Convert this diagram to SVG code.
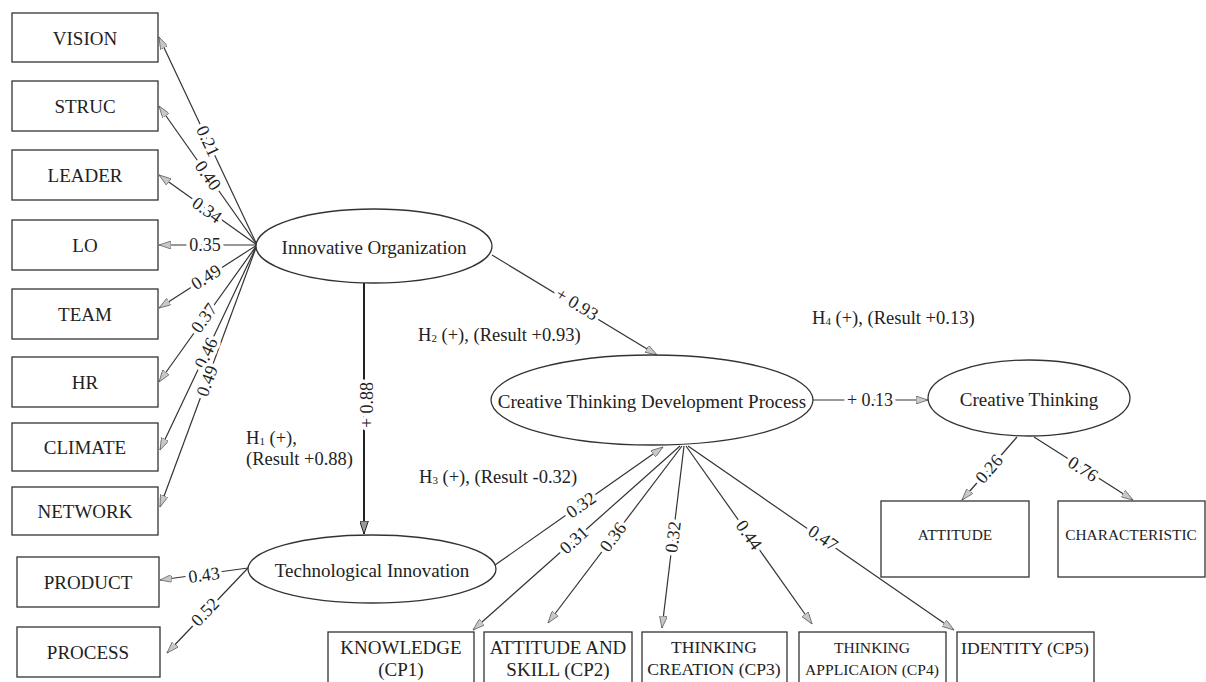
<svg xmlns="http://www.w3.org/2000/svg" width="1206" height="682" viewBox="0 0 1206 682">
<style>
  text { font-family: "Liberation Serif", "Times New Roman", serif; fill: #222; }
  .box { fill: #fff; stroke: #333; stroke-width: 1.3; }
  .ell { fill: #fff; stroke: #333; stroke-width: 1.3; }
  .t { font-size: 19px; text-anchor: middle; dominant-baseline: central; }
  .ts { font-size: 15.4px; text-anchor: middle; dominant-baseline: central; }
  .tb { font-size: 17.6px; text-anchor: middle; dominant-baseline: central; }
  .tc { font-size: 15.6px; text-anchor: middle; dominant-baseline: central; }
  .h { font-size: 18.5px; dominant-baseline: central; }
  .ln { stroke: #333; stroke-width: 1.2; fill: none; marker-end: url(#arr); }
  .lnd { stroke: #222; stroke-width: 2; fill: none; marker-end: url(#arrd); }
  .lbl { font-size: 18px; text-anchor: middle; dominant-baseline: central; stroke: #fff; stroke-width: 7; stroke-linejoin: round; paint-order: stroke; }
</style>
<defs>
  <marker id="arr" viewBox="0 0 12 8" refX="12" refY="4" markerWidth="12" markerHeight="8" markerUnits="userSpaceOnUse" orient="auto">
    <path d="M0,0 L12,4 L0,8 z" fill="#c8c8c8" stroke="#666" stroke-width="0.8"/>
  </marker>
  <marker id="arrd" viewBox="0 0 12 8" refX="12" refY="4" markerWidth="13" markerHeight="9" markerUnits="userSpaceOnUse" orient="auto">
    <path d="M0,0 L12,4 L0,8 z" fill="#999" stroke="#222" stroke-width="0.9"/>
  </marker>
</defs>
<rect width="1206" height="682" fill="#fff"/>

<g id="connectors">
  <line class="ln" x1="257" y1="245" x2="159" y2="37"/>
  <line class="ln" x1="257" y1="245" x2="159" y2="106"/>
  <line class="ln" x1="257" y1="245" x2="159" y2="175"/>
  <line class="ln" x1="257" y1="245" x2="159" y2="245"/>
  <line class="ln" x1="257" y1="245" x2="159" y2="308"/>
  <line class="ln" x1="257" y1="245" x2="159" y2="382"/>
  <line class="ln" x1="257" y1="245" x2="160" y2="450"/>
  <line class="ln" x1="257" y1="245" x2="160" y2="507"/>
  <line class="ln" x1="248" y1="568" x2="160" y2="580"/>
  <line class="ln" x1="248" y1="568" x2="167" y2="653"/>
  <line class="lnd" x1="364" y1="283" x2="364" y2="534"/>
  <line class="ln" x1="492" y1="255" x2="657" y2="355"/>
  <line class="ln" x1="495" y1="565" x2="663" y2="447"/>
  <line class="ln" x1="813" y1="400" x2="928" y2="400"/>
  <line class="ln" x1="680" y1="446" x2="473" y2="630"/>
  <line class="ln" x1="682" y1="446" x2="548" y2="623"/>
  <line class="ln" x1="684" y1="446" x2="662" y2="628"/>
  <line class="ln" x1="686" y1="446" x2="812" y2="624"/>
  <line class="ln" x1="688" y1="446" x2="954" y2="630"/>
  <line class="ln" x1="1017" y1="437" x2="962" y2="500"/>
  <line class="ln" x1="1034" y1="437" x2="1133" y2="500"/>

  <text class="lbl" transform="translate(208,141) rotate(64.8)">0.21</text>
  <text class="lbl" transform="translate(208,175.5) rotate(54.8)">0.40</text>
  <text class="lbl" transform="translate(207,210) rotate(35.5)">0.34</text>
  <text class="lbl" transform="translate(205,245)">0.35</text>
  <text class="lbl" transform="translate(206,277) rotate(-32.7)">0.49</text>
  <text class="lbl" transform="translate(204,318) rotate(-54.4)">0.37</text>
  <text class="lbl" transform="translate(206,353) rotate(-64.7)">0.46</text>
  <text class="lbl" transform="translate(207,381) rotate(-69.7)">0.49</text>
  <text class="lbl" transform="translate(204,575) rotate(-7.8)">0.43</text>
  <text class="lbl" transform="translate(205,612) rotate(-46.4)">0.52</text>
  <text class="lbl" transform="translate(367,405) rotate(-90)">+ 0.88</text>
  <text class="lbl" transform="translate(577,304) rotate(31.2)">+ 0.93</text>
  <text class="lbl" transform="translate(870,400)">+ 0.13</text>
  <text class="lbl" transform="translate(581,505) rotate(-35.1)">0.32</text>
  <text class="lbl" transform="translate(574,540) rotate(-41.6)">0.31</text>
  <text class="lbl" transform="translate(613,537) rotate(-52.9)">0.36</text>
  <text class="lbl" transform="translate(673,537) rotate(-83.1)">0.32</text>
  <text class="lbl" transform="translate(749,535) rotate(54.7)">0.44</text>
  <text class="lbl" transform="translate(823,538) rotate(34.7)">0.47</text>
  <text class="lbl" transform="translate(989,469) rotate(-48.9)">0.26</text>
  <text class="lbl" transform="translate(1083,469) rotate(32.5)">0.76</text>
</g>

<g id="hypotheses">
  <text class="h" x="246" y="438">H<tspan font-size="11" dy="3">1</tspan><tspan dy="-3"> (+),</tspan></text>
  <text class="h" x="246" y="459">(Result +0.88)</text>
  <text class="h" x="418" y="335">H<tspan font-size="11" dy="3">2</tspan><tspan dy="-3">  (+), (Result +0.93)</tspan></text>
  <text class="h" x="419" y="477">H<tspan font-size="11" dy="3">3</tspan><tspan dy="-3"> (+), (Result -0.32)</tspan></text>
  <text class="h" x="812" y="318">H<tspan font-size="11" dy="3">4</tspan><tspan dy="-3"> (+), (Result +0.13)</tspan></text>
</g>

<g id="n-vision"><rect class="box" x="12" y="13" width="146" height="49"/><text class="t" x="85" y="38">VISION</text></g>
<g id="n-struc"><rect class="box" x="12" y="81" width="146" height="50"/><text class="t" x="85" y="106">STRUC</text></g>
<g id="n-leader"><rect class="box" x="12" y="150" width="146" height="50"/><text class="t" x="85" y="175">LEADER</text></g>
<g id="n-lo"><rect class="box" x="12" y="220" width="146" height="50"/><text class="t" x="85" y="245">LO</text></g>
<g id="n-team"><rect class="box" x="12" y="289" width="146" height="50"/><text class="t" x="85" y="314">TEAM</text></g>
<g id="n-hr"><rect class="box" x="12" y="357" width="146" height="50"/><text class="t" x="85" y="382">HR</text></g>
<g id="n-climate"><rect class="box" x="12" y="423" width="146" height="48"/><text class="t" x="85" y="447">CLIMATE</text></g>
<g id="n-network"><rect class="box" x="12" y="487" width="146" height="48"/><text class="t" x="85" y="511">NETWORK</text></g>
<g id="n-product"><rect class="box" x="17" y="557" width="142" height="50"/><text class="t" x="88" y="582">PRODUCT</text></g>
<g id="n-process"><rect class="box" x="17" y="627" width="143" height="50"/><text class="t" x="88" y="652">PROCESS</text></g>

<g id="n-io"><ellipse class="ell" cx="374" cy="246" rx="118" ry="37"/><text class="t" x="374" y="247">Innovative Organization</text></g>
<g id="n-ti"><ellipse class="ell" cx="372" cy="569" rx="124" ry="34"/><text class="t" x="372" y="570">Technological Innovation</text></g>
<g id="n-ctdp"><ellipse class="ell" cx="652" cy="400" rx="161" ry="45"/><text class="t" x="652" y="401">Creative Thinking Development Process</text></g>
<g id="n-ct"><ellipse class="ell" cx="1029" cy="398" rx="101" ry="38"/><text class="t" x="1029" y="399">Creative Thinking</text></g>

<g id="n-attitude"><rect class="box" x="881" y="501" width="148" height="76"/><text class="ts" x="955" y="534">ATTITUDE</text></g>
<g id="n-characteristic"><rect class="box" x="1058" y="501" width="147" height="76"/><text class="ts" x="1131" y="534">CHARACTERISTIC</text></g>

<g id="n-cp1"><rect class="box" x="328" y="632" width="146" height="60"/><text class="t" x="401" y="647">KNOWLEDGE</text><text class="t" x="401" y="669">(CP1)</text></g>
<g id="n-cp2"><rect class="box" x="484" y="632" width="148" height="60"/><text class="t" x="558" y="647">ATTITUDE AND</text><text class="t" x="558" y="669">SKILL (CP2)</text></g>
<g id="n-cp3"><rect class="box" x="642" y="632" width="145" height="60"/><text class="tb" x="714" y="647">THINKING</text><text class="tb" x="714" y="669">CREATION (CP3)</text></g>
<g id="n-cp4"><rect class="box" x="799" y="632" width="147" height="60"/><text class="tc" x="872" y="647">THINKING</text><text class="tc" x="872" y="669">APPLICAION (CP4)</text></g>
<g id="n-cp5"><rect class="box" x="957" y="632" width="137" height="60"/><text class="tb" x="1025" y="648">IDENTITY (CP5)</text></g>
</svg>
